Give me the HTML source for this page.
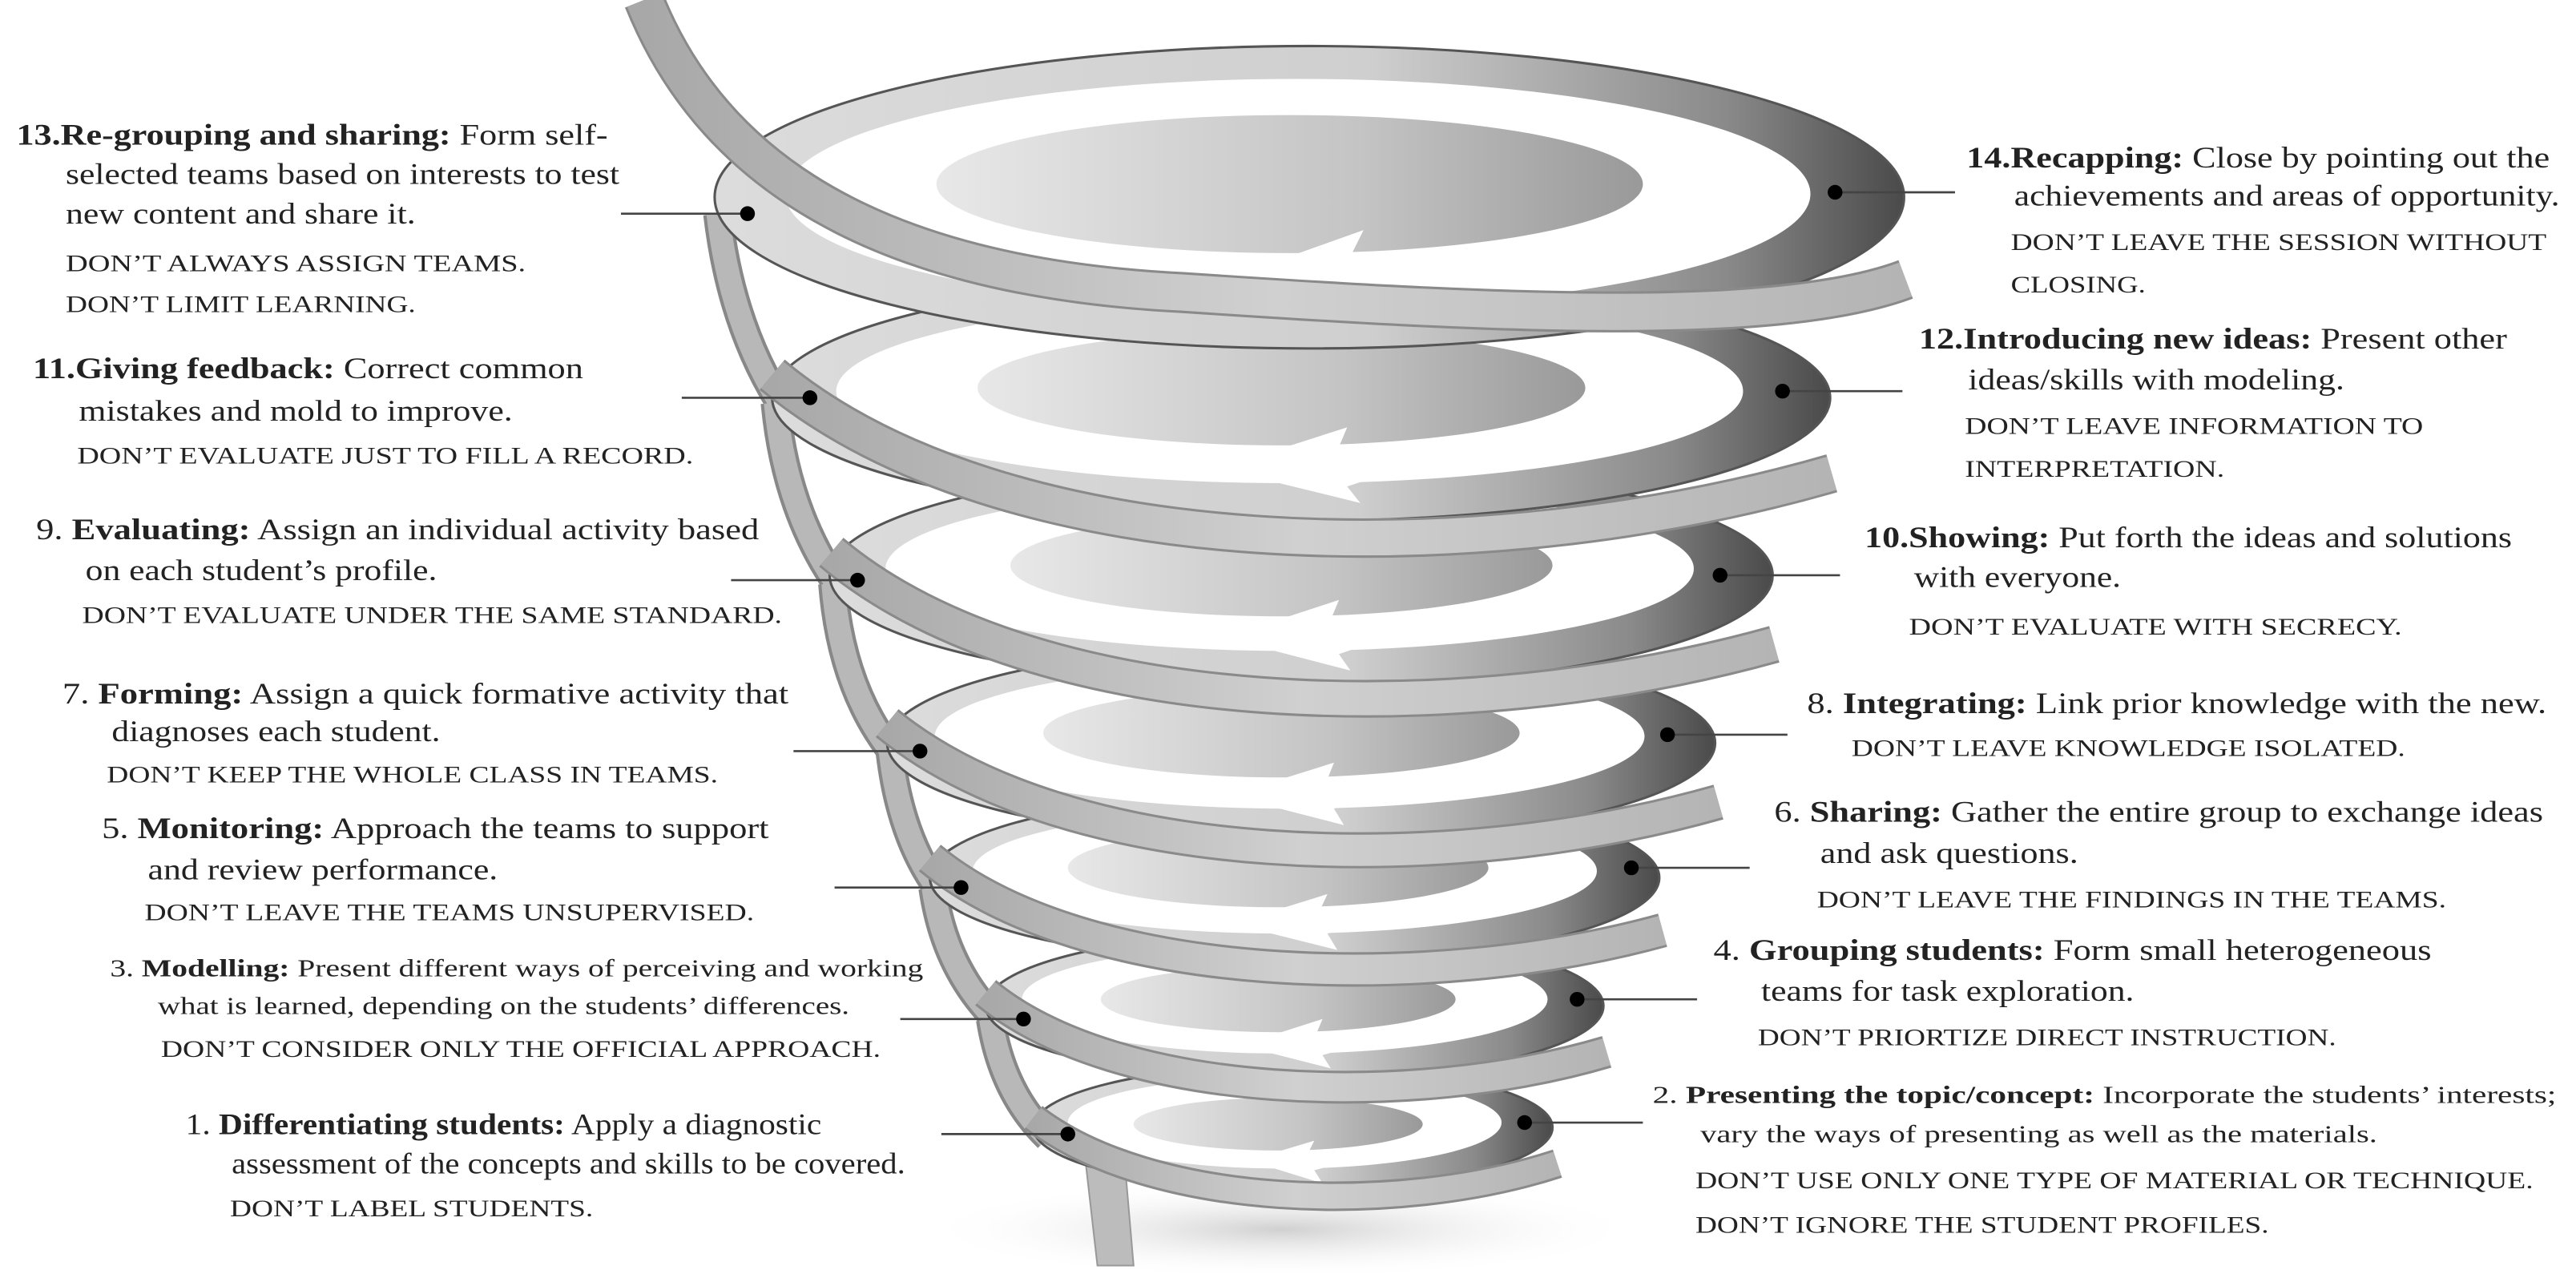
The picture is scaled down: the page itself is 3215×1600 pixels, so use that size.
<!DOCTYPE html>
<html><head><meta charset="utf-8"><style>
html,body{margin:0;padding:0;background:#fff;}
svg{display:block;}
text{font-family:"Liberation Serif",serif;fill:#222;}
.m{font-size:18px;}
.s{font-size:15px;}
.c{font-size:14.5px;}
</style></head><body>
<svg width="3215" height="1600" viewBox="0 0 1568 780" preserveAspectRatio="none" xmlns="http://www.w3.org/2000/svg">
<defs>
<linearGradient id="rim" x1="0" x2="1" y1="0" y2="0">
<stop offset="0" stop-color="#dcdcdc"/><stop offset="0.55" stop-color="#cfcfcf"/><stop offset="0.85" stop-color="#8a8a8a"/><stop offset="1" stop-color="#4a4a4a"/></linearGradient>
<linearGradient id="inn" x1="0" x2="1" y1="0" y2="0">
<stop offset="0" stop-color="#e8e8e8"/><stop offset="0.6" stop-color="#c4c4c4"/><stop offset="1" stop-color="#999"/></linearGradient>
<linearGradient id="rib" x1="0" x2="1" y1="0" y2="0">
<stop offset="0" stop-color="#a8a8a8"/><stop offset="0.5" stop-color="#d0d0d0"/><stop offset="1" stop-color="#b4b4b4"/></linearGradient>
<radialGradient id="sh"><stop offset="0" stop-color="#d0d0d0"/><stop offset="1" stop-color="#fff" stop-opacity="0"/></radialGradient>
</defs>
<ellipse cx="780" cy="748" rx="220" ry="30" fill="url(#sh)"/>
<g fill="none" stroke-linecap="butt">
<g stroke="#888" stroke-width="18">
<path d="M437 130 Q445 200 478 250"/><path d="M472 245 Q478 310 510 356"/><path d="M507 355 Q512 420 545 460"/>
<path d="M542 458 Q548 510 572 542"/><path d="M568 540 Q575 590 608 622"/><path d="M603 620 Q610 665 638 692"/>
</g>
<g stroke="#b8b8b8" stroke-width="14">
<path d="M437 130 Q445 200 478 250"/><path d="M472 245 Q478 310 510 356"/><path d="M507 355 Q512 420 545 460"/>
<path d="M542 458 Q548 510 572 542"/><path d="M568 540 Q575 590 608 622"/><path d="M603 620 Q610 665 638 692"/>
</g>
</g>
<path d="M660 700 L668 770 L690 770 L684 700 Z" fill="#bcbcbc" stroke="#999" stroke-width="1"/>
<g id="rings">
<g>
<ellipse cx="787" cy="686" rx="158" ry="38" fill="url(#rim)" stroke="#555" stroke-width="1.5"/>
<ellipse cx="782" cy="683" rx="132" ry="28" fill="#fff"/>
<ellipse cx="778" cy="684" rx="88" ry="16" fill="url(#inn)"/>
<polygon points="760,706 800,694 795,704 845,700 800,712 805,720" fill="#fff"/>
<path d="M629 680 C700 735 850 740 948 708" fill="none" stroke="#8a8a8a" stroke-width="18"/>
<path d="M629 680 C700 735 850 740 948 708" fill="none" stroke="url(#rib)" stroke-width="15"/>
</g>
<g>
<ellipse cx="788" cy="612" rx="188" ry="45" fill="url(#rim)" stroke="#555" stroke-width="1.5"/>
<ellipse cx="782" cy="608" rx="160" ry="33" fill="#fff"/>
<ellipse cx="778" cy="608" rx="108" ry="20" fill="url(#inn)"/>
<polygon points="755,636 805,620 800,632 860,626 805,642 810,650" fill="#fff"/>
<path d="M600 604 C680 670 860 675 978 640" fill="none" stroke="#8a8a8a" stroke-width="20"/>
<path d="M600 604 C680 670 860 675 978 640" fill="none" stroke="url(#rib)" stroke-width="17"/>
</g>
<g>
<ellipse cx="788" cy="534" rx="222" ry="52" fill="url(#rim)" stroke="#555" stroke-width="1.5"/>
<ellipse cx="782" cy="530" rx="190" ry="38" fill="#fff"/>
<ellipse cx="778" cy="528" rx="128" ry="24" fill="url(#inn)"/>
<polygon points="750,562 808,544 802,557 870,550 808,568 814,578" fill="#fff"/>
<path d="M566 522 C660 600 870 605 1012 566" fill="none" stroke="#8a8a8a" stroke-width="21"/>
<path d="M566 522 C660 600 870 605 1012 566" fill="none" stroke="url(#rib)" stroke-width="18"/>
</g>
<g>
<ellipse cx="792" cy="452" rx="252" ry="60" fill="url(#rim)" stroke="#555" stroke-width="1.5"/>
<ellipse cx="785" cy="448" rx="216" ry="44" fill="#fff"/>
<ellipse cx="780" cy="446" rx="145" ry="27" fill="url(#inn)"/>
<polygon points="748,484 812,464 806,479 880,470 812,492 818,502" fill="#fff"/>
<path d="M540 440 C650 530 880 535 1046 488" fill="none" stroke="#8a8a8a" stroke-width="22"/>
<path d="M540 440 C650 530 880 535 1046 488" fill="none" stroke="url(#rib)" stroke-width="19"/>
</g>
<g>
<ellipse cx="792" cy="350" rx="287" ry="68" fill="url(#rim)" stroke="#555" stroke-width="1.5"/>
<ellipse cx="785" cy="346" rx="246" ry="50" fill="#fff"/>
<ellipse cx="780" cy="344" rx="165" ry="31" fill="url(#inn)"/>
<polygon points="745,388 815,365 808,382 890,372 815,398 822,408" fill="#fff"/>
<path d="M506 336 C630 440 890 445 1080 392" fill="none" stroke="#8a8a8a" stroke-width="23"/>
<path d="M506 336 C630 440 890 445 1080 392" fill="none" stroke="url(#rib)" stroke-width="20"/>
</g>
<g>
<ellipse cx="792" cy="242" rx="322" ry="75" fill="url(#rim)" stroke="#555" stroke-width="1.5"/>
<ellipse cx="785" cy="238" rx="276" ry="56" fill="#fff"/>
<ellipse cx="780" cy="236" rx="185" ry="35" fill="url(#inn)"/>
<polygon points="742,285 820,260 812,279 905,268 820,296 828,306" fill="#fff"/>
<path d="M470 228 C610 345 900 350 1115 288" fill="none" stroke="#8a8a8a" stroke-width="24"/>
<path d="M470 228 C610 345 900 350 1115 288" fill="none" stroke="url(#rib)" stroke-width="21"/>
</g>
<g>
<ellipse cx="797" cy="120" rx="362" ry="92" fill="url(#rim)" stroke="#555" stroke-width="1.5"/>
<ellipse cx="790" cy="118" rx="312" ry="70" fill="#fff"/>
<ellipse cx="785" cy="112" rx="215" ry="42" fill="url(#inn)"/>
<polygon points="740,172 830,140 820,160 925,150 830,182 838,195" fill="#fff"/>
<path d="M392 0 C440 120 560 170 720 178 C900 190 1080 200 1160 170" fill="none" stroke="#8a8a8a" stroke-width="25"/>
<path d="M392 0 C440 120 560 170 720 178 C900 190 1080 200 1160 170" fill="none" stroke="url(#rib)" stroke-width="22"/>
</g>
</g>
<g stroke="#444" stroke-width="1.3">
<line x1="378" y1="130" x2="455" y2="130"/><line x1="415" y1="242" x2="493" y2="242"/>
<line x1="445" y1="353" x2="522" y2="353"/><line x1="483" y1="457" x2="560" y2="457"/>
<line x1="508" y1="540" x2="585" y2="540"/><line x1="548" y1="620" x2="623" y2="620"/>
<line x1="573" y1="690" x2="650" y2="690"/>
<line x1="1117" y1="117" x2="1190" y2="117"/><line x1="1085" y1="238" x2="1158" y2="238"/>
<line x1="1047" y1="350" x2="1120" y2="350"/><line x1="1015" y1="447" x2="1088" y2="447"/>
<line x1="993" y1="528" x2="1065" y2="528"/><line x1="960" y1="608" x2="1033" y2="608"/>
<line x1="928" y1="683" x2="1000" y2="683"/>
</g>
<g fill="#000">
<circle cx="455" cy="130" r="4.5"/><circle cx="493" cy="242" r="4.5"/><circle cx="522" cy="353" r="4.5"/>
<circle cx="560" cy="457" r="4.5"/><circle cx="585" cy="540" r="4.5"/><circle cx="623" cy="620" r="4.5"/>
<circle cx="650" cy="690" r="4.5"/><circle cx="1117" cy="117" r="4.5"/><circle cx="1085" cy="238" r="4.5"/>
<circle cx="1047" cy="350" r="4.5"/><circle cx="1015" cy="447" r="4.5"/><circle cx="993" cy="528" r="4.5"/>
<circle cx="960" cy="608" r="4.5"/><circle cx="928" cy="683" r="4.5"/>
</g>
<g>
<text class="m" x="10" y="88" textLength="360" lengthAdjust="spacingAndGlyphs"><tspan font-weight="bold">13.Re-grouping and sharing:</tspan> Form self-</text>
<text class="m" x="40" y="112" textLength="337" lengthAdjust="spacingAndGlyphs">selected teams based on interests to test</text>
<text class="m" x="40" y="136" textLength="213" lengthAdjust="spacingAndGlyphs">new content and share it.</text>
<text class="c" x="40" y="165" textLength="280" lengthAdjust="spacingAndGlyphs">DON’T ALWAYS ASSIGN TEAMS.</text>
<text class="c" x="40" y="190" textLength="213" lengthAdjust="spacingAndGlyphs">DON’T LIMIT LEARNING.</text>

<text class="m" x="20" y="230" textLength="335" lengthAdjust="spacingAndGlyphs"><tspan font-weight="bold">11.Giving feedback:</tspan> Correct common</text>
<text class="m" x="48" y="256" textLength="264" lengthAdjust="spacingAndGlyphs">mistakes and mold to improve.</text>
<text class="c" x="47" y="282" textLength="375" lengthAdjust="spacingAndGlyphs">DON’T EVALUATE JUST TO FILL A RECORD.</text>

<text class="m" x="22" y="328" textLength="440" lengthAdjust="spacingAndGlyphs">9.  <tspan font-weight="bold">Evaluating:</tspan> Assign an individual activity based</text>
<text class="m" x="52" y="353" textLength="214" lengthAdjust="spacingAndGlyphs">on each student’s profile.</text>
<text class="c" x="50" y="379" textLength="426" lengthAdjust="spacingAndGlyphs">DON’T EVALUATE UNDER THE SAME STANDARD.</text>

<text class="m" x="38" y="428" textLength="442" lengthAdjust="spacingAndGlyphs">7.  <tspan font-weight="bold">Forming:</tspan> Assign a quick formative activity that</text>
<text class="m" x="68" y="451" textLength="200" lengthAdjust="spacingAndGlyphs">diagnoses each student.</text>
<text class="c" x="65" y="476" textLength="372" lengthAdjust="spacingAndGlyphs">DON’T KEEP THE WHOLE CLASS IN TEAMS.</text>

<text class="m" x="62" y="510" textLength="406" lengthAdjust="spacingAndGlyphs">5.  <tspan font-weight="bold">Monitoring:</tspan> Approach the teams to support</text>
<text class="m" x="90" y="535" textLength="213" lengthAdjust="spacingAndGlyphs">and review performance.</text>
<text class="c" x="88" y="560" textLength="371" lengthAdjust="spacingAndGlyphs">DON’T LEAVE THE TEAMS UNSUPERVISED.</text>

<text class="s" x="67" y="594" textLength="495" lengthAdjust="spacingAndGlyphs">3.  <tspan font-weight="bold">Modelling:</tspan> Present different ways of perceiving and working</text>
<text class="s" x="96" y="617" textLength="421" lengthAdjust="spacingAndGlyphs">what is learned, depending on the students’ differences.</text>
<text class="c" x="98" y="643" textLength="438" lengthAdjust="spacingAndGlyphs">DON’T CONSIDER ONLY THE OFFICIAL APPROACH.</text>

<text class="m" x="113" y="690" textLength="387" lengthAdjust="spacingAndGlyphs">1.  <tspan font-weight="bold">Differentiating students:</tspan> Apply a diagnostic</text>
<text class="m" x="141" y="714" textLength="410" lengthAdjust="spacingAndGlyphs">assessment of the concepts and skills to be covered.</text>
<text class="c" x="140" y="740" textLength="221" lengthAdjust="spacingAndGlyphs">DON’T LABEL STUDENTS.</text>

<text class="m" x="1197" y="102" textLength="355" lengthAdjust="spacingAndGlyphs"><tspan font-weight="bold">14.Recapping:</tspan> Close by pointing out the</text>
<text class="m" x="1226" y="125" textLength="332" lengthAdjust="spacingAndGlyphs">achievements and areas of opportunity.</text>
<text class="c" x="1224" y="152" textLength="326" lengthAdjust="spacingAndGlyphs">DON’T LEAVE THE SESSION WITHOUT</text>
<text class="c" x="1224" y="178" textLength="82" lengthAdjust="spacingAndGlyphs">CLOSING.</text>

<text class="m" x="1168" y="212" textLength="358" lengthAdjust="spacingAndGlyphs"><tspan font-weight="bold">12.Introducing new ideas:</tspan> Present other</text>
<text class="m" x="1198" y="237" textLength="229" lengthAdjust="spacingAndGlyphs">ideas/skills with modeling.</text>
<text class="c" x="1196" y="264" textLength="279" lengthAdjust="spacingAndGlyphs">DON’T LEAVE INFORMATION TO</text>
<text class="c" x="1196" y="290" textLength="158" lengthAdjust="spacingAndGlyphs">INTERPRETATION.</text>

<text class="m" x="1135" y="333" textLength="394" lengthAdjust="spacingAndGlyphs"><tspan font-weight="bold">10.Showing:</tspan> Put forth the ideas and solutions</text>
<text class="m" x="1165" y="357" textLength="126" lengthAdjust="spacingAndGlyphs">with everyone.</text>
<text class="c" x="1162" y="386" textLength="300" lengthAdjust="spacingAndGlyphs">DON’T EVALUATE WITH SECRECY.</text>

<text class="m" x="1100" y="434" textLength="450" lengthAdjust="spacingAndGlyphs">8.  <tspan font-weight="bold">Integrating:</tspan> Link prior knowledge with the new.</text>
<text class="c" x="1127" y="460" textLength="337" lengthAdjust="spacingAndGlyphs">DON’T LEAVE KNOWLEDGE ISOLATED.</text>

<text class="m" x="1080" y="500" textLength="468" lengthAdjust="spacingAndGlyphs">6.  <tspan font-weight="bold">Sharing:</tspan> Gather the entire group to exchange ideas</text>
<text class="m" x="1108" y="525" textLength="157" lengthAdjust="spacingAndGlyphs">and ask questions.</text>
<text class="c" x="1106" y="552" textLength="383" lengthAdjust="spacingAndGlyphs">DON’T LEAVE THE FINDINGS IN THE TEAMS.</text>

<text class="m" x="1043" y="584" textLength="437" lengthAdjust="spacingAndGlyphs">4.  <tspan font-weight="bold">Grouping students:</tspan> Form small heterogeneous</text>
<text class="m" x="1072" y="609" textLength="227" lengthAdjust="spacingAndGlyphs">teams for task exploration.</text>
<text class="c" x="1070" y="636" textLength="352" lengthAdjust="spacingAndGlyphs">DON’T PRIORTIZE DIRECT INSTRUCTION.</text>

<text class="s" x="1006" y="671" textLength="550" lengthAdjust="spacingAndGlyphs">2.  <tspan font-weight="bold">Presenting the topic/concept:</tspan> Incorporate the students’ interests;</text>
<text class="s" x="1035" y="695" textLength="412" lengthAdjust="spacingAndGlyphs">vary the ways of presenting as well as the materials.</text>
<text class="c" x="1032" y="723" textLength="510" lengthAdjust="spacingAndGlyphs">DON’T USE ONLY ONE TYPE OF MATERIAL OR TECHNIQUE.</text>
<text class="c" x="1032" y="750" textLength="349" lengthAdjust="spacingAndGlyphs">DON’T IGNORE THE STUDENT PROFILES.</text>
</g>
</svg>
</body></html>
